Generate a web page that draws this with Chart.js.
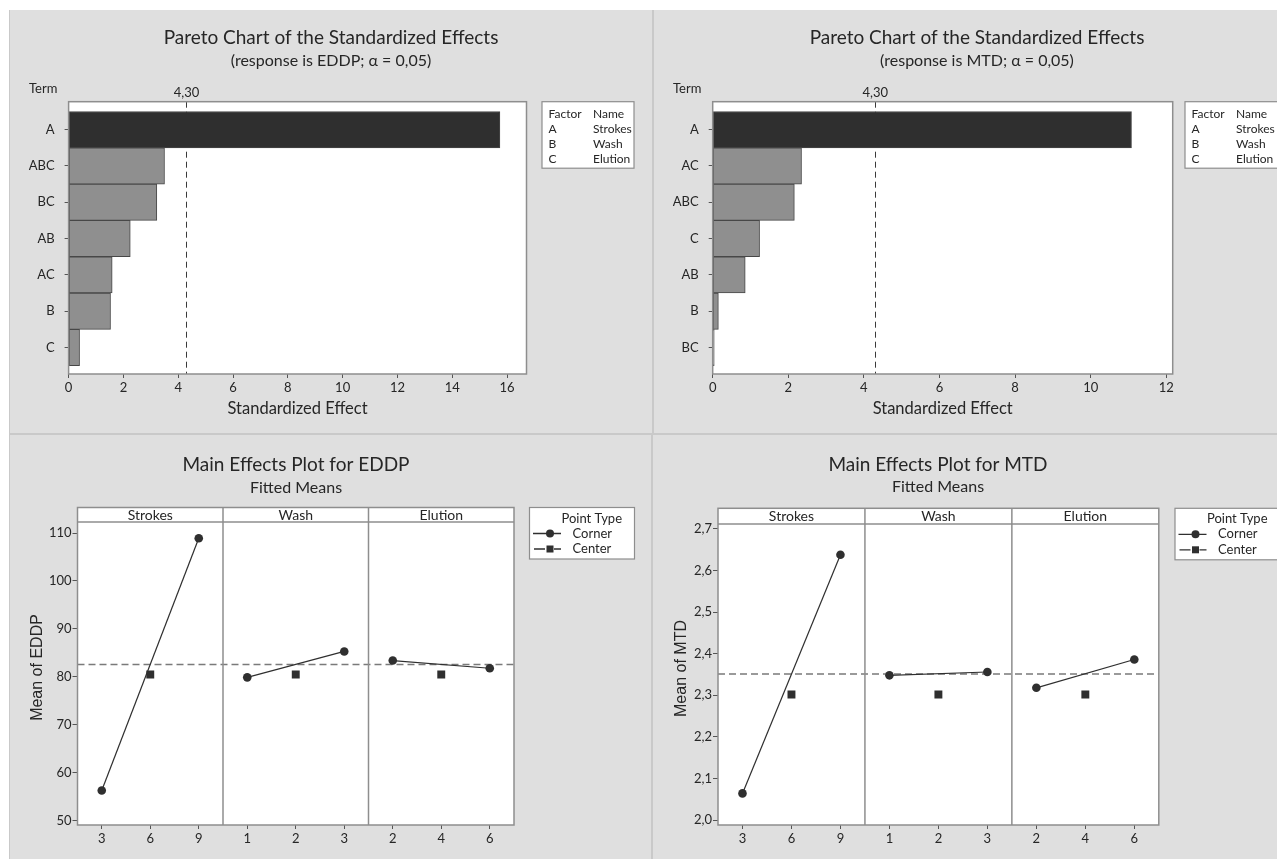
<!DOCTYPE html>
<html>
<head>
<meta charset="utf-8">
<title>Pareto and Main Effects Plots — EDDP and MTD</title>
<script src="https://cdn.jsdelivr.net/npm/chart.js@4.4.1/dist/chart.umd.min.js"></script>
<style>
  html, body { margin: 0; padding: 0; background: #ffffff; }
  #page { position: relative; width: 1277px; height: 859px; overflow: hidden; background: #ffffff; }
  #frameLines { position: absolute; left: 9px; top: 10px; right: 0; bottom: 0; background: #c9c9c9; }
  .quad { position: absolute; background: #dfdfdf; }
  canvas { position: absolute; left: 0; top: 0; }
</style>
</head>
<body>
<div id="page">
  <div id="frameLines"></div>
  <div class="quad" style="left:10px; top:10px; width:642px; height:423px;"></div>
  <div class="quad" style="left:654px; top:10px; width:623px; height:423px;"></div>
  <div class="quad" style="left:10px; top:435px; width:641px; height:424px;"></div>
  <div class="quad" style="left:653px; top:435px; width:624px; height:424px;"></div>
  <canvas id="paretoEDDP" width="1277" height="859"></canvas>
  <canvas id="paretoMTD" width="1277" height="859"></canvas>
  <canvas id="effectsEDDP" width="1277" height="859"></canvas>
  <canvas id="effectsMTD" width="1277" height="859"></canvas>
</div>
<script>
// ---- Pareto chart data: terms sorted by absolute standardized effect ----
const paretoTermsEDDP = ['A', 'ABC', 'BC', 'AB', 'AC', 'B', 'C'];
const paretoEffectsEDDP = [15.74, 3.50, 3.22, 2.25, 1.59, 1.53, 0.40];
const paretoTermsMTD = ['A', 'AC', 'ABC', 'C', 'AB', 'B', 'BC'];
const paretoEffectsMTD = [11.08, 2.35, 2.16, 1.24, 0.86, 0.15, 0.04];
const criticalEffect = 4.30;           // t-critical value, alpha = 0.05
const paretoTicksEDDP = [0, 2, 4, 6, 8, 10, 12, 14, 16];
const paretoTicksMTD = [0, 2, 4, 6, 8, 10, 12];

// ---- Factors ----
const factorCodes = ['A', 'B', 'C'];
const factorNames = ['Strokes', 'Wash', 'Elution'];
const strokesLevels = [3, 6, 9];
const washLevels = [1, 2, 3];
const elutionLevels = [2, 4, 6];

// ---- Main effects: fitted means at the corner levels (low, high) and centre point ----
const eddpStrokesCorner = [56.3, 108.9];
const eddpWashCorner = [79.9, 85.3];
const eddpElutionCorner = [83.4, 81.8];
const eddpCenter = [80.5, 80.5, 80.5];
const eddpMean = 82.6;
const eddpTicks = [50, 60, 70, 80, 90, 100, 110];

const mtdStrokesCorner = [2.064, 2.638];
const mtdWashCorner = [2.348, 2.356];
const mtdElutionCorner = [2.318, 2.386];
const mtdCenter = [2.302, 2.302, 2.302];
const mtdMean = 2.351;
const mtdTicks = [2.0, 2.1, 2.2, 2.3, 2.4, 2.5, 2.6, 2.7];

// ---- Styling ----
const FONT = 'Lato, "Open Sans", sans-serif';
const AXIS_FONT = '"Liberation Sans", Arial, sans-serif';
const INK = '#262626';
const FRAME = '#8e8e8e';
const W = 1277, H = 859;

function decimalComma(v, digits) {
  return v.toFixed(digits).replace('.', ',');
}

function drawText(ctx, s, x, y, font, align, color) {
  ctx.save();
  ctx.font = font;
  ctx.fillStyle = color || INK;
  ctx.textAlign = align || 'left';
  ctx.textBaseline = 'middle';
  ctx.fillText(s, x, y);
  ctx.restore();
}

// ---------------- Pareto chart ----------------
const paretoDecor = {
  id: 'paretoDecor',
  beforeDraw(chart) {
    const { ctx, chartArea: a } = chart;
    ctx.save();
    ctx.fillStyle = '#ffffff';
    ctx.fillRect(a.left, a.top, a.width, a.height);
    ctx.restore();
  },
  // the reference line sits behind the bars
  beforeDatasetsDraw(chart, args, o) {
    const { ctx, chartArea: a } = chart;
    const x = Math.round(chart.scales.x.getPixelForValue(o.critical)) + 0.5;
    ctx.save();
    ctx.strokeStyle = '#3a3a3a';
    ctx.lineWidth = 1;
    ctx.setLineDash([6, 4]);
    ctx.beginPath();
    ctx.moveTo(x, a.top);
    ctx.lineTo(x, a.bottom);
    ctx.stroke();
    ctx.restore();
  },
  afterDraw(chart, args, o) {
    const { ctx, chartArea: a } = chart;
    ctx.save();
    ctx.strokeStyle = FRAME;
    ctx.lineWidth = 1.5;
    ctx.strokeRect(a.left, a.top, a.width, a.height);
    ctx.restore();

    const xc = chart.scales.x.getPixelForValue(o.critical);
    drawText(ctx, decimalComma(o.critical, 2), xc, a.top - 9, '13px ' + FONT, 'center');
    drawText(ctx, 'Term', o.termX, a.top - 13, '13px ' + FONT, 'left');

    drawText(ctx, 'Pareto Chart of the Standardized Effects', o.titleX, 38, '19px ' + FONT, 'center');
    drawText(ctx, '(response is ' + o.response + '; \u03b1 = 0,05)', o.titleX, 61, '16px ' + FONT, 'center');
    drawText(ctx, 'Standardized Effect', (a.left + a.right) / 2, 409, '16.5px ' + FONT, 'center');

    // factor key
    const lx = o.legendX, ly = a.top;
    ctx.save();
    ctx.fillStyle = '#ffffff';
    ctx.fillRect(lx, ly, o.legendW, 66.5);
    ctx.strokeStyle = FRAME;
    ctx.lineWidth = 1.2;
    ctx.strokeRect(lx, ly, o.legendW, 66.5);
    ctx.restore();
    const rows = [['Factor', 'Name']].concat(factorCodes.map((c, i) => [c, factorNames[i]]));
    rows.forEach((r, i) => {
      const y = ly + 12.5 + i * 15;
      drawText(ctx, r[0], lx + 6.5, y, '12px ' + FONT, 'left');
      drawText(ctx, r[1], lx + 51, y, '12px ' + FONT, 'left');
    });
  }
};

function paretoChart(id, terms, effects, xMax, xTicks, box, extra) {
  const points = effects.map((v, i) => ({ x: v, y: i }));
  const positions = terms.map((t, i) => i);
  return new Chart(document.getElementById(id), {
    type: 'bar',
    data: {
      datasets: [{
        data: points,
        backgroundColor: effects.map(v => (v > criticalEffect ? '#2f2f2f' : '#8f8f8f')),
        borderColor: '#474747',
        borderWidth: 1,
        borderSkipped: false,
        categoryPercentage: 1,
        barPercentage: 1
      }]
    },
    options: {
      indexAxis: 'y',
      responsive: false,
      animation: false,
      events: [],
      layout: { padding: { left: box.left - 40, right: W - box.right, top: box.top, bottom: H - box.bottom - 40 } },
      plugins: {
        legend: { display: false },
        tooltip: { enabled: false },
        title: { display: false },
        paretoDecor: Object.assign({ critical: criticalEffect }, extra)
      },
      scales: {
        x: {
          type: 'linear',
          min: 0,
          max: xMax,
          offset: false,
          afterBuildTicks: s => { s.ticks = xTicks.map(v => ({ value: v })); },
          afterFit: s => { s.height = 40; },
          grid: { drawOnChartArea: false, drawTicks: true, tickLength: 4, color: '#555', offset: false },
          border: { display: false },
          ticks: { font: { family: FONT, size: 13 }, color: INK, padding: 2, maxRotation: 0 }
        },
        y: {
          type: 'linear',
          reverse: true,
          min: -0.77,
          max: 6.73,
          offset: false,
          afterBuildTicks: s => { s.ticks = positions.map(v => ({ value: v })); },
          afterFit: s => { s.width = 40; },
          grid: { drawOnChartArea: false, drawTicks: true, tickLength: 4, color: '#555', offset: false },
          border: { display: false },
          ticks: { font: { family: FONT, size: 13 }, color: INK, padding: 10, callback: v => terms[v] }
        }
      }
    },
    plugins: [paretoDecor]
  });
}

// ---------------- Main effects plot ----------------
const effectsDecor = {
  id: 'effectsDecor',
  beforeDraw(chart, args, o) {
    const { ctx, chartArea: a } = chart;
    ctx.save();
    ctx.fillStyle = '#ffffff';
    ctx.fillRect(a.left, o.stripTop, a.width, a.bottom - o.stripTop);
    ctx.restore();
  },
  afterDraw(chart, args, o) {
    const { ctx, chartArea: a } = chart;
    const xs = chart.scales.x;
    const edges = [xs.getPixelForValue(-0.5), xs.getPixelForValue(2.5), xs.getPixelForValue(5.5), xs.getPixelForValue(8.5)];
    ctx.save();
    ctx.strokeStyle = FRAME;
    ctx.lineWidth = 1.5;
    ctx.strokeRect(a.left, o.stripTop, a.width, a.bottom - o.stripTop);
    ctx.beginPath();
    ctx.moveTo(a.left, a.top);
    ctx.lineTo(a.right, a.top);
    [edges[1], edges[2]].forEach(x => { ctx.moveTo(x, o.stripTop); ctx.lineTo(x, a.bottom); });
    ctx.stroke();
    ctx.restore();
    factorNames.forEach((n, i) => {
      drawText(ctx, n, (edges[i] + edges[i + 1]) / 2, (o.stripTop + a.top) / 2 + 0.5, '14px ' + FONT, 'center');
    });

    drawText(ctx, 'Main Effects Plot for ' + o.response, o.titleX, o.titleY, '19px ' + FONT, 'center');
    drawText(ctx, 'Fitted Means', o.titleX, o.titleY + 22.5, '16px ' + FONT, 'center');

    ctx.save();
    ctx.translate(o.yTitleX, (a.top + a.bottom) / 2 - 6);
    ctx.rotate(-Math.PI / 2);
    drawText(ctx, 'Mean of ' + o.response, 0, 0, '16px ' + AXIS_FONT, 'center');
    ctx.restore();

    // point type key
    const lx = o.legendX, ly = o.stripTop;
    ctx.save();
    ctx.fillStyle = '#ffffff';
    ctx.fillRect(lx, ly, 105, 51.5);
    ctx.strokeStyle = FRAME;
    ctx.lineWidth = 1.2;
    ctx.strokeRect(lx, ly, 105, 51.5);
    ctx.fillStyle = '#2f2f2f';
    ctx.strokeStyle = '#2f2f2f';
    ctx.lineWidth = 1.3;
    const y1 = ly + 26, y2 = ly + 41.5, mx = lx + 20.5;
    ctx.beginPath();
    ctx.moveTo(lx + 3.5, y1); ctx.lineTo(lx + 31.5, y1);
    ctx.moveTo(lx + 4.5, y2); ctx.lineTo(lx + 15.5, y2);
    ctx.moveTo(lx + 24.5, y2); ctx.lineTo(lx + 31.5, y2);
    ctx.stroke();
    ctx.beginPath();
    ctx.arc(mx, y1, 4, 0, Math.PI * 2);
    ctx.fill();
    ctx.fillRect(mx - 3.5, y2 - 3.5, 7, 7);
    ctx.restore();
    drawText(ctx, 'Point Type', lx + 32, ly + 11, '13px ' + FONT, 'left');
    drawText(ctx, 'Corner', lx + 43, y1, '13px ' + FONT, 'left');
    drawText(ctx, 'Center', lx + 43, y2, '13px ' + FONT, 'left');
  }
};

function effectsChart(id, corners, center, mean, yMin, yMax, yTicks, digits, box, extra) {
  const levels = strokesLevels.concat(washLevels, elutionLevels);
  const cornerSets = corners.map((pair, k) => ({
    data: [{ x: 3 * k, y: pair[0] }, { x: 3 * k + 2, y: pair[1] }],
    borderColor: '#2f2f2f',
    backgroundColor: '#2f2f2f',
    borderWidth: 1.2,
    pointStyle: 'circle',
    pointRadius: 4.3,
    pointBorderWidth: 0,
    showLine: true
  }));
  const centerSet = {
    data: center.map((v, k) => ({ x: 3 * k + 1, y: v })),
    borderColor: '#2f2f2f',
    backgroundColor: '#2f2f2f',
    pointStyle: 'rect',
    pointRadius: 5.6,
    pointBorderWidth: 0,
    showLine: false
  };
  const meanSet = {
    data: [{ x: -0.5, y: mean }, { x: 8.5, y: mean }],
    borderColor: '#7a7a7a',
    borderWidth: 1.5,
    borderDash: [7, 4],
    pointRadius: 0,
    showLine: true
  };
  return new Chart(document.getElementById(id), {
    type: 'scatter',
    data: { datasets: cornerSets.concat([centerSet, meanSet]) },
    options: {
      responsive: false,
      animation: false,
      events: [],
      layout: { padding: { left: box.left - 40, right: W - box.right, top: box.top, bottom: H - box.bottom - 30 } },
      plugins: {
        legend: { display: false },
        tooltip: { enabled: false },
        effectsDecor: Object.assign({ stripTop: box.stripTop }, extra)
      },
      scales: {
        x: {
          type: 'linear',
          min: -0.5,
          max: 8.5,
          offset: false,
          afterBuildTicks: s => { s.ticks = levels.map((v, i) => ({ value: i })); },
          afterFit: s => { s.height = 30; },
          grid: { drawOnChartArea: false, drawTicks: true, tickLength: 4, color: '#555' },
          border: { display: false },
          ticks: { font: { family: FONT, size: 13 }, color: INK, padding: 2, maxRotation: 0, callback: v => levels[v] }
        },
        y: {
          type: 'linear',
          min: yMin,
          max: yMax,
          afterBuildTicks: s => { s.ticks = yTicks.map(v => ({ value: v })); },
          afterFit: s => { s.width = 40; },
          grid: { drawOnChartArea: false, drawTicks: true, tickLength: 5, color: '#555' },
          border: { display: false },
          ticks: { font: { family: FONT, size: 13 }, color: INK, padding: 1, callback: v => decimalComma(v, digits) }
        }
      }
    },
    plugins: [effectsDecor]
  });
}

paretoChart('paretoEDDP', paretoTermsEDDP, paretoEffectsEDDP, 16.71, paretoTicksEDDP,
  { left: 68.6, right: 526.5, top: 101.7, bottom: 374 },
  { response: 'EDDP', titleX: 331, termX: 29, legendX: 542, legendW: 92 });

paretoChart('paretoMTD', paretoTermsMTD, paretoEffectsMTD, 12.17, paretoTicksMTD,
  { left: 712.7, right: 1172.7, top: 101.7, bottom: 374 },
  { response: 'MTD', titleX: 977, termX: 673, legendX: 1185, legendW: 100 });

effectsChart('effectsEDDP', [eddpStrokesCorner, eddpWashCorner, eddpElutionCorner], eddpCenter, eddpMean,
  49.1, 112.3, eddpTicks, 0,
  { left: 77.5, right: 514, top: 522, bottom: 825, stripTop: 507.5 },
  { response: 'EDDP', titleX: 296, titleY: 465, yTitleX: 38, legendX: 529.5 });

effectsChart('effectsMTD', [mtdStrokesCorner, mtdWashCorner, mtdElutionCorner], mtdCenter, mtdMean,
  1.988, 2.712, mtdTicks, 1,
  { left: 718, right: 1158.8, top: 524, bottom: 825, stripTop: 508.3 },
  { response: 'MTD', titleX: 938, titleY: 464.5, yTitleX: 682, legendX: 1175 });
</script>
</body>
</html>
